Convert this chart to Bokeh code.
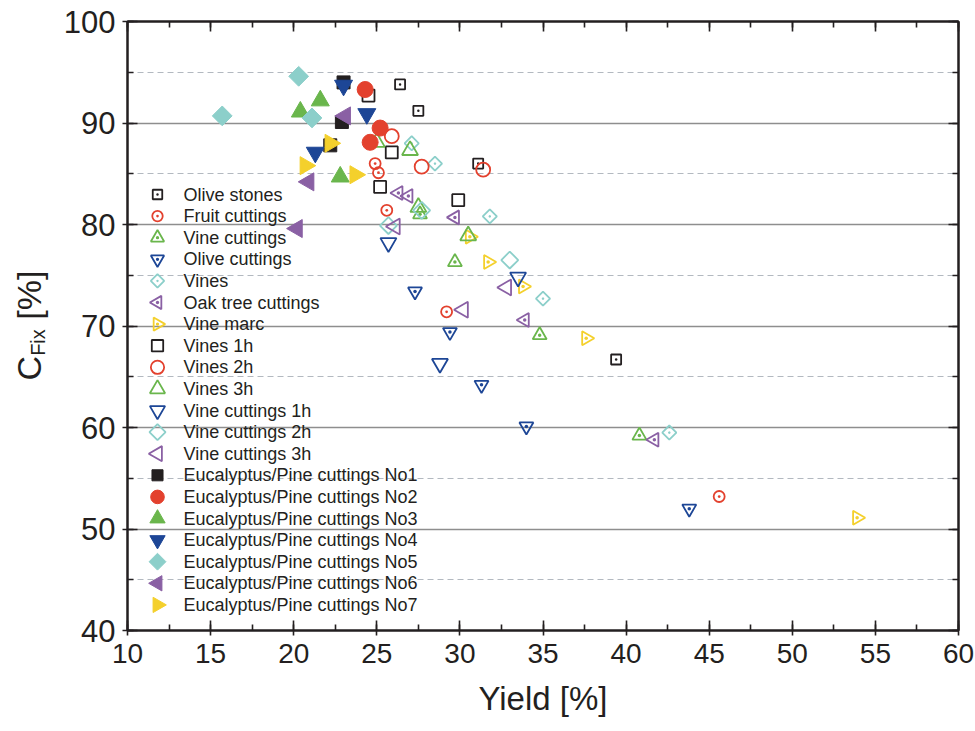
import numpy as np
from bokeh.plotting import figure
from bokeh.layouts import row
from bokeh.models import (LinearAxis, Range1d, SingleIntervalTicker, CustomJSTickFormatter)
from bokeh.core.properties import value
from bokeh.embed import file_html
from bokeh.resources import INLINE

FONT = "Liberation Sans"
INK = "#231f20"

# ---------------- data ----------------
olive_stones_x = [26.4, 27.5, 31.1, 39.4]
olive_stones_y = [93.8, 91.2, 86.0, 66.7]
fruit_cuttings_x = [24.9, 25.1, 25.6, 29.2, 45.6]
fruit_cuttings_y = [86.0, 85.1, 81.4, 71.4, 53.2]
vine_cuttings_x = [27.6, 29.7, 34.8, 40.8]
vine_cuttings_y = [81.0, 76.3, 69.1, 59.2]
olive_cuttings_x = [27.3, 29.4, 31.3, 34.0, 43.8]
olive_cuttings_y = [73.4, 69.4, 64.2, 60.1, 52.0]
vines_x = [27.1, 28.5, 31.8, 35.0, 42.6]
vines_y = [88.0, 86.0, 80.8, 72.7, 59.5]
oak_x = [26.3, 26.9, 29.7, 33.9, 41.7]
oak_y = [83.1, 82.8, 80.7, 70.6, 58.8]
vine_marc_x = [30.6, 31.7, 33.8, 37.6, 53.9]
vine_marc_y = [78.8, 76.3, 73.9, 68.8, 51.1]
vines_1h_x = [24.5, 25.9, 25.2, 29.9]
vines_1h_y = [92.7, 87.1, 83.7, 82.4]
vines_2h_x = [25.9, 27.7, 31.4]
vines_2h_y = [88.7, 85.7, 85.4]
vines_3h_x = [25.0, 27.0, 27.5, 30.5]
vines_3h_y = [88.1, 87.3, 81.7, 78.9]
vc_1h_x = [25.7, 33.5, 28.8]
vc_1h_y = [78.2, 74.8, 66.3]
vc_2h_x = [25.7, 27.7, 33.0]
vc_2h_y = [79.9, 81.4, 76.5]
vc_3h_x = [26.1, 32.8, 30.2]
vc_3h_y = [79.8, 73.8, 71.6]
no1_x = [23.0, 22.9, 22.2]
no1_y = [94.0, 90.1, 87.8]
no2_x = [24.3, 25.2, 24.6]
no2_y = [93.3, 89.5, 88.1]
no3_x = [21.6, 20.4, 22.8]
no3_y = [92.2, 91.1, 84.7]
no4_x = [23.0, 24.4, 21.3]
no4_y = [93.7, 90.9, 87.1]
no5_x = [15.7, 20.3, 21.1]
no5_y = [90.7, 94.6, 90.5]
no6_x = [23.1, 20.9, 20.2]
no6_y = [90.7, 84.2, 79.6]
no7_x = [22.2, 20.7, 23.7]
no7_y = [88.0, 85.8, 84.9]

x_tick_interval = 5
y_tick_interval = 10
x_label = "Yield [%]"
y_label_main, y_label_sub, y_label_unit = "C", "Fix", "[%]"

BLACK = "#231f20"
RED = "#e3412e"
GREEN = "#6ab64c"
BLUE = "#1d4696"
CYAN = "#8ccfca"
PURPLE = "#8a60a4"
YELLOW = "#f4d02c"

UP, DOWN, LEFT, RIGHT, DIAM = 0.0, np.pi, np.pi / 2, -np.pi / 2, np.pi / 4

# label, x, y, marker, angle, color, size, filled
series = [
    ("Olive stones", olive_stones_x, olive_stones_y, "square_dot", 0.0, BLACK, 10, False),
    ("Fruit cuttings", fruit_cuttings_x, fruit_cuttings_y, "circle_dot", 0.0, RED, 11, False),
    ("Vine cuttings", vine_cuttings_x, vine_cuttings_y, "triangle_dot", UP, GREEN, 14, False),
    ("Olive cuttings", olive_cuttings_x, olive_cuttings_y, "triangle_dot", DOWN, BLUE, 14, False),
    ("Vines", vines_x, vines_y, "square_dot", DIAM, CYAN, 10, False),
    ("Oak tree cuttings", oak_x, oak_y, "triangle_dot", LEFT, PURPLE, 14, False),
    ("Vine marc", vine_marc_x, vine_marc_y, "triangle_dot", RIGHT, YELLOW, 14, False),
    ("Vines 1h", vines_1h_x, vines_1h_y, "square", 0.0, BLACK, 12, False),
    ("Vines 2h", vines_2h_x, vines_2h_y, "circle", 0.0, RED, 14, False),
    ("Vines 3h", vines_3h_x, vines_3h_y, "triangle", UP, GREEN, 16, False),
    ("Vine cuttings 1h", vc_1h_x, vc_1h_y, "triangle", DOWN, BLUE, 16, False),
    ("Vine cuttings 2h", vc_2h_x, vc_2h_y, "square", DIAM, CYAN, 12, False),
    ("Vine cuttings 3h", vc_3h_x, vc_3h_y, "triangle", LEFT, PURPLE, 16, False),
    ("Eucalyptus/Pine cuttings No1", no1_x, no1_y, "square", 0.0, BLACK, 13, True),
    ("Eucalyptus/Pine cuttings No2", no2_x, no2_y, "circle", 0.0, RED, 16, True),
    ("Eucalyptus/Pine cuttings No3", no3_x, no3_y, "triangle", UP, GREEN, 18, True),
    ("Eucalyptus/Pine cuttings No4", no4_x, no4_y, "triangle", DOWN, BLUE, 18, True),
    ("Eucalyptus/Pine cuttings No5", no5_x, no5_y, "square", DIAM, CYAN, 14, True),
    ("Eucalyptus/Pine cuttings No6", no6_x, no6_y, "triangle", LEFT, PURPLE, 18, True),
    ("Eucalyptus/Pine cuttings No7", no7_x, no7_y, "triangle", RIGHT, YELLOW, 18, True),
]

# ---------------- layout constants ----------------
W, H = 975, 731
LABEL_W = 60                     # narrow strip holding the rotated y title
FRAME_L, FRAME_R, FRAME_T, FRAME_B = 127, 958, 21, 630
FRAME_W, FRAME_H = FRAME_R - FRAME_L, FRAME_B - FRAME_T

# ---------------- y-title strip ----------------
# (its frame is aligned with the main frame by the row layout, so its
#  vertical range is expressed in pixels above the frame bottom)
yl = figure(width=LABEL_W, height=H, x_range=Range1d(0, LABEL_W), y_range=Range1d(0, FRAME_H),
            x_axis_type=None, y_axis_type=None, toolbar_location=None, title=None,
            output_backend="svg", min_border=0)
yl.outline_line_color = None
yl.background_fill_color = "white"
yl.border_fill_color = "white"

BIG, SMALL = 34, 20
w_main = 0.722 * BIG
w_sub = (0.611 + 0.222 + 0.5) * SMALL
w_space = 0.278 * BIG
w_unit = (0.278 + 0.889 + 0.278) * BIG
center_up = FRAME_B - 325
start = center_up - (w_main + w_sub + w_space + w_unit) / 2
base_x = 28
tx = [base_x, base_x + 9, base_x]
ty = [start, start + w_main, start + w_main + w_sub + w_space]
for xx, yy, t, fs in zip(tx, ty, [y_label_main, y_label_sub, y_label_unit], [BIG, SMALL, BIG]):
    yl.text(x=[xx], y=[yy], text=[t], angle=np.pi / 2, text_font=value(FONT),
            text_font_size=value(f"{fs}px"), text_color=INK,
            text_align="left", text_baseline="alphabetic")

# ---------------- main plot ----------------
p = figure(width=W - LABEL_W, height=H, x_range=Range1d(10, 60), y_range=Range1d(40, 100),
           output_backend="svg", toolbar_location=None,
           min_border_left=FRAME_L - LABEL_W, min_border_right=W - FRAME_R,
           min_border_top=FRAME_T, min_border_bottom=H - FRAME_B)
p.background_fill_color = "white"
p.border_fill_color = "white"
p.outline_line_color = INK
p.outline_line_width = 2

bx = p.below[0]
ly = p.left[0]
bx.ticker = SingleIntervalTicker(interval=x_tick_interval, num_minor_ticks=2)
ly.ticker = SingleIntervalTicker(interval=y_tick_interval, num_minor_ticks=2)


def style_axis(ax, labels=True, size="28px"):
    ax.axis_line_color = INK
    ax.axis_line_width = 2
    ax.major_tick_line_color = INK
    ax.minor_tick_line_color = INK
    ax.major_tick_line_width = 1.6
    ax.minor_tick_line_width = 1.6
    ax.major_tick_in = 10
    ax.major_tick_out = 0
    ax.minor_tick_in = 6
    ax.minor_tick_out = 0
    ax.major_label_text_font = FONT
    ax.major_label_text_color = INK
    if labels:
        ax.major_label_text_font_size = size
    else:
        ax.formatter = CustomJSTickFormatter(code="return ''")
        ax.major_label_text_font_size = "8px"
        ax.major_label_standoff = 0


style_axis(bx, size="28px")
style_axis(ly, size="31px")
bx.major_tick_out = 5
ly.major_tick_out = 5
bx.major_label_standoff = 8
ly.major_label_standoff = 7
bx.axis_label = x_label
bx.axis_label_text_font = FONT
bx.axis_label_text_font_size = "33px"
bx.axis_label_text_font_style = "normal"
bx.axis_label_text_color = INK
bx.axis_label_standoff = 14

top = LinearAxis(ticker=SingleIntervalTicker(interval=x_tick_interval, num_minor_ticks=2))
right = LinearAxis(ticker=SingleIntervalTicker(interval=y_tick_interval, num_minor_ticks=2))
style_axis(top, labels=False)
style_axis(right, labels=False)
p.add_layout(top, "above")
p.add_layout(right, "right")

p.xgrid.visible = False
p.ygrid.grid_line_color = "#8e8e8e"
p.ygrid.grid_line_width = 1.3
p.ygrid.minor_grid_line_color = "#b3b9c0"
p.ygrid.minor_grid_line_width = 1.2
p.ygrid.minor_grid_line_dash = "6 4"

# pixel-unit ranges over the frame, used only for the legend block
p.extra_x_ranges = {"px": Range1d(0, FRAME_W)}
p.extra_y_ranges = {"px": Range1d(0, FRAME_H)}
LEG_GLYPH_X = 157 - FRAME_L
LEG_TEXT_X = 183 - FRAME_L
LEG_TOP = FRAME_B - 194
LEG_STEP = 21.6

for i, (label, xs, ys, marker, ang, color, size, filled) in enumerate(series):
    style = dict(marker=marker, angle=ang, line_color=color,
                 line_width=1.0 if filled else 1.8,
                 fill_color=color if filled else None)
    p.scatter(xs, ys, size=size, **style)
    ly_i = LEG_TOP - i * LEG_STEP
    p.scatter([LEG_GLYPH_X], [ly_i], size=size * (0.85 if filled else 0.95),
              x_range_name="px", y_range_name="px", **style)

p.text(x=[LEG_TEXT_X] * len(series), y=[LEG_TOP - i * LEG_STEP for i in range(len(series))],
       text=[s[0] for s in series], x_range_name="px", y_range_name="px",
       text_font=value(FONT), text_font_size=value("18px"), text_color=INK,
       text_align="left", text_baseline="middle")

layout = row(yl, p, spacing=0)
open("out.html", "w").write(file_html(layout, INLINE))
